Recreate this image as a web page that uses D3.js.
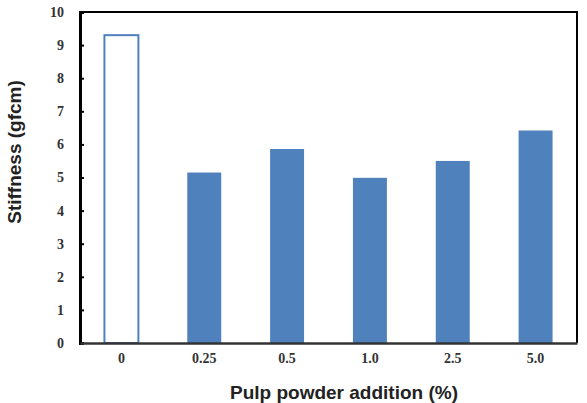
<!DOCTYPE html>
<html>
<head>
<meta charset="utf-8">
<script src="https://cdn.jsdelivr.net/npm/d3@7"></script>
<style>
  body { margin: 0; background: #fff; }
</style>
</head>
<body>
<div id="container"></div>
<script>
// data
const categories = ["0", "0.25", "0.5", "1.0", "2.5", "5.0"];
const stiffness = [9.3, 5.15, 5.86, 4.99, 5.5, 6.42];
const yTicks = [0, 1, 2, 3, 4, 5, 6, 7, 8, 9, 10];

const width = 587,
  height = 403,
  margin = { top: 12, right: 10, bottom: 60, left: 80 };

const barColor = "#4f81bd";

const svg = d3.select("#container")
  .append("svg")
  .attr("width", width)
  .attr("height", height);

const x = d3.scaleBand()
  .domain(categories)
  .range([margin.left, width - margin.right])
  .paddingInner(0.59)
  .paddingOuter(0.295);

const y = d3.scaleLinear()
  .domain([0, 10])
  .range([height - margin.bottom, margin.top]);

// bars - the control (0) is drawn hollow
svg.selectAll("rect.bar")
  .data(categories.map((c, i) => ({ cat: c, val: stiffness[i] })))
  .join("rect")
  .attr("class", "bar")
  .attr("x", d => x(d.cat))
  .attr("width", x.bandwidth())
  .attr("y", d => y(d.val))
  .attr("height", d => y(0) - y(d.val))
  .attr("fill", (d, i) => i === 0 ? "#fff" : barColor)
  .attr("stroke", (d, i) => i === 0 ? barColor : "none")
  .attr("stroke-width", 2);

// frame (top + right)
svg.append("path")
  .attr("d", `M${margin.left},${margin.top}H${width - margin.right}V${y(0)}`)
  .attr("fill", "none")
  .attr("stroke", "#000")
  .attr("stroke-width", 2);

// y axis, ticks pointing inward
const yAxis = svg.append("g")
  .attr("transform", `translate(${margin.left},0)`)
  .call(d3.axisRight(y).tickValues(yTicks).tickSize(4).tickFormat(d3.format("d")));
yAxis.select(".domain").attr("stroke", "#000").attr("stroke-width", 3);
yAxis.selectAll(".tick line").attr("stroke", "#000").attr("stroke-width", 2);
yAxis.selectAll(".tick text")
  .attr("x", -16)
  .attr("text-anchor", "end")
  .style("font-family", "'Liberation Serif', 'Times New Roman', serif")
  .style("font-weight", "bold")
  .style("font-size", "14px")
  .attr("fill", "#333");

// x axis
const xAxis = svg.append("g")
  .attr("transform", `translate(0,${y(0)})`)
  .call(d3.axisBottom(x).tickSize(0).tickPadding(10));
xAxis.select(".domain").attr("stroke", "#333").attr("stroke-width", 2.5);
xAxis.selectAll(".tick text")
  .style("font-family", "'Liberation Serif', 'Times New Roman', serif")
  .style("font-weight", "bold")
  .style("font-size", "14px")
  .attr("fill", "#333");

// axis titles
svg.append("text")
  .attr("x", 344)
  .attr("y", 399)
  .attr("text-anchor", "middle")
  .style("font-family", "'Liberation Sans', Arial, sans-serif")
  .style("font-weight", "bold")
  .style("font-size", "19px")
  .attr("fill", "#222")
  .text("Pulp powder addition (%)");

svg.append("text")
  .attr("transform", "translate(21,152) rotate(-90)")
  .attr("text-anchor", "middle")
  .style("font-family", "'Liberation Sans', Arial, sans-serif")
  .style("font-weight", "bold")
  .style("font-size", "19px")
  .attr("fill", "#222")
  .text("Stiffness (gfcm)");
</script>
</body>
</html>
